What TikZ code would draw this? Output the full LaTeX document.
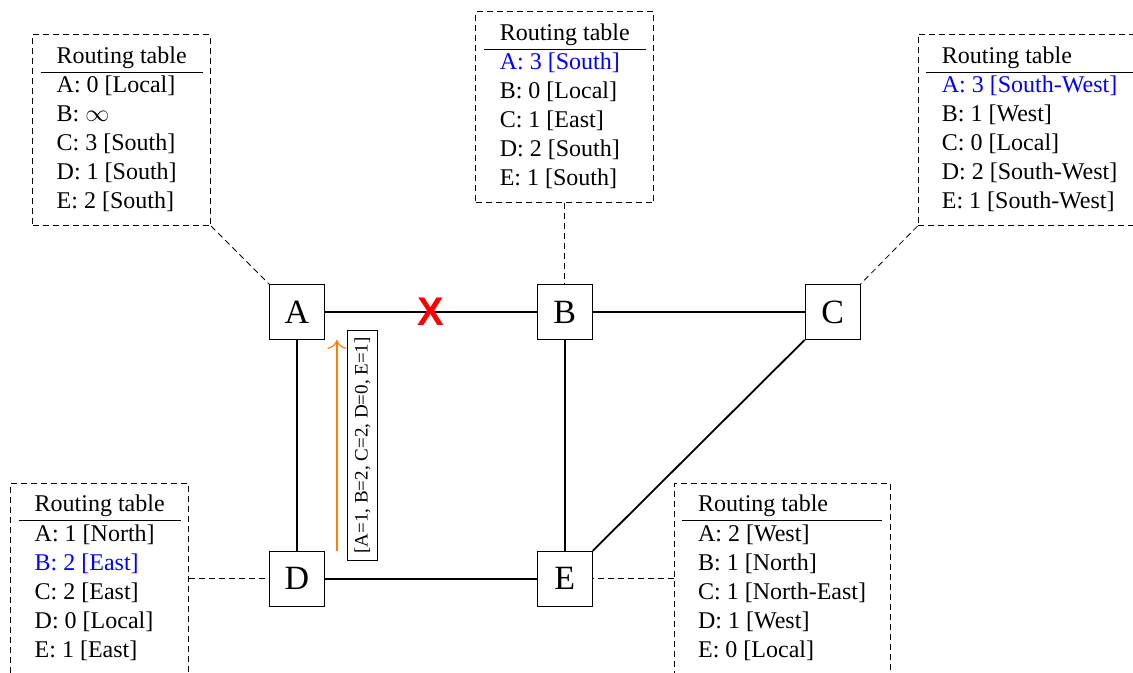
\documentclass[tikz,border=0pt,12pt]{standalone}
\usepackage{fontspec}
\setmainfont{Liberation Serif}
\setsansfont{Liberation Sans}
\usepackage{xcolor}
\definecolor{cVec}{HTML}{FF8000}
\definecolor{cCut}{HTML}{FF0000}
\definecolor{cNew}{HTML}{0000FF}
\usepackage{tikz}
\usetikzlibrary{positioning,arrows.meta}
\tikzset{
  node-router/.style={draw,minimum size=27.5pt,inner sep=0pt,
    font=\fontsize{17}{17}\selectfont},
  node-table/.style={draw,dash pattern=on 3pt off 2pt,inner sep=4pt,
    font=\fontsize{12}{14.5}\selectfont},
  node-cut/.style={text=cCut,inner sep=0pt,
    font=\fontsize{20}{20}\selectfont\sffamily\bfseries},
  node-vec/.style={draw=black,fill=white,inner sep=3.5pt,
    font=\fontsize{9.5}{11}\selectfont},
  link/.style={line width=0.9pt},
  link-table/.style={dash pattern=on 3pt off 2pt},
  arrow-vec/.style={-{To[length=1.6mm]},semithick,draw=cVec},
}
\newcommand{\routingtab}[1]{%
  \begin{tabular}{@{\hspace{8pt}}l@{\hspace{8pt}}}
    Routing table\\\hline
    #1
  \end{tabular}}

\begin{document}
\begin{tikzpicture}[node distance=105.5pt and 106pt]
  \useasboundingbox (-148.5pt,-180.5pt) rectangle (418pt,156pt);
  \clip (-148.5pt,-180.5pt) rectangle (418pt,156pt);
  % routers
  \node[node-router] (A) {A};
  \node[node-router,right=of A] (B) {B};
  \node[node-router,right=of B] (C) {C};
  \node[node-router,below=of A] (D) {D};
  \node[node-router,right=of D] (E) {E};
  % routing tables
  \node[node-table,above left=29pt and 29pt of A] (tA) {\routingtab{%
    A: 0 [Local]\\ B: $\infty$\\ C: 3 [South]\\ D: 1 [South]\\ E: 2 [South]}};
  \node[node-table,above=40.5pt of B] (tB) {\routingtab{%
    \textcolor{cNew}{A: 3 [South]}\\ B: 0 [Local]\\ C: 1 [East]\\ D: 2 [South]\\ E: 1 [South]}};
  \node[node-table,above right=29pt and 28.5pt of C] (tC) {\routingtab{%
    \textcolor{cNew}{A: 3 [South-West]}\\ B: 1 [West]\\ C: 0 [Local]\\ D: 2 [South-West]\\ E: 1 [South-West]}};
  \node[node-table,left=40pt of D] (tD) {\routingtab{%
    A: 1 [North]\\ \textcolor{cNew}{B: 2 [East]}\\ C: 2 [East]\\ D: 0 [Local]\\ E: 1 [East]}};
  \node[node-table,right=40.5pt of E] (tE) {\routingtab{%
    A: 2 [West]\\ B: 1 [North]\\ C: 1 [North-East]\\ D: 1 [West]\\ E: 0 [Local]}};
  % links
  \draw[link] (A) -- node[node-cut] (cut) {X} (B);
  \draw[link] (B) -- (C);
  \draw[link] (A) -- (D);
  \draw[link] (B) -- (E);
  \draw[link] (D) -- (E);
  \draw[link] (C.south west) -- (E.north east);
  % tables to routers
  \draw[link-table] (tA.south east) -- (A.north west);
  \draw[link-table] (tB.south) -- (B.north);
  \draw[link-table] (tC.south west) -- (C.north east);
  \draw[link-table] (tD.east) -- (D.west);
  \draw[link-table] (tE.west) -- (E.east);
  % distance vector from D
  \draw[arrow-vec] ([xshift=6pt]D.north east) -- node[node-vec,midway,sloped,below=5pt] (vec)
    {[A=1, B=2, C=2, D=0, E=1]} ([xshift=6pt]A.south east);
\end{tikzpicture}
\end{document}
